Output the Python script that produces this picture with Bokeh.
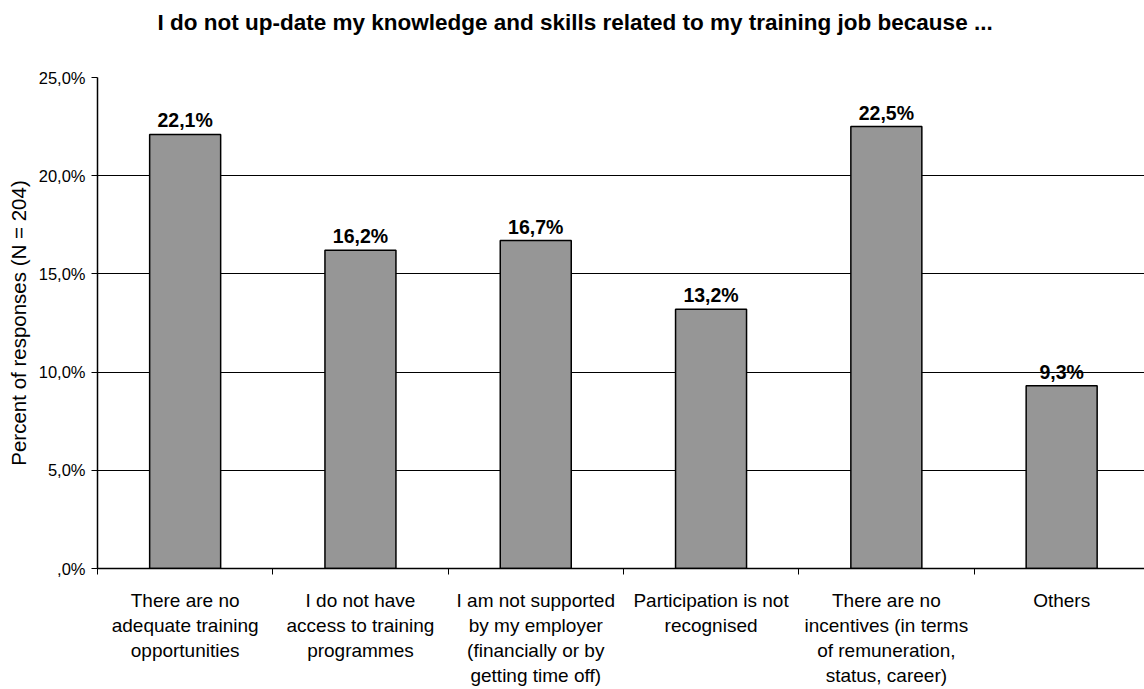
from bokeh.plotting import figure
from bokeh.models import FixedTicker, Range1d, ColumnDataSource, Title
from bokeh.core.properties import value
from bokeh.embed import file_html
from bokeh.resources import INLINE

title_text = "I do not up-date my knowledge and skills related to my training job because ..."
categories = [
    "There are no\nadequate training\nopportunities",
    "I do not have\naccess to training\nprogrammes",
    "I am not supported\nby my employer\n(financially or by\ngetting time off)",
    "Participation is not\nrecognised",
    "There are no\nincentives (in terms\nof remuneration,\nstatus, career)",
    "Others",
]
values = [22.1, 16.2, 16.7, 13.2, 22.5, 9.3]
value_labels = ["22,1%", "16,2%", "16,7%", "13,2%", "22,5%", "9,3%"]
y_ticks = [0, 5, 10, 15, 20, 25]
y_tick_labels = [",0%", "5,0%", "10,0%", "15,0%", "20,0%", "25,0%"]

FONT = "Liberation Sans"

xs = [i + 0.5 for i in range(len(categories))]
src = ColumnDataSource(dict(x=xs, top=values, lab=value_labels))

# plot area continues slightly past the right edge of the page, as in the reference
p = figure(width=1144, height=689, output_backend="svg", toolbar_location=None,
           x_range=Range1d(0, 5.9726), y_range=Range1d(0, 25),
           min_border_left=97, min_border_right=0, min_border_top=77, min_border_bottom=112)
p.outline_line_color = None
p.background_fill_color = "white"
p.border_fill_color = "white"

# blank spacer title next to the plot area, then the real title above it
p.add_layout(Title(text=" ", text_font=FONT, text_font_size="20px", standoff=19), "above")
p.add_layout(Title(text=title_text, text_font=FONT, text_font_size="22.5px", text_font_style="bold",
                   align="left", offset=60, standoff=0, text_color="black"), "above")

p.vbar(x="x", top="top", width=0.405, bottom=0, source=src,
       fill_color="#969696", line_color="black", line_width=1.5)
p.text(x="x", y="top", text="lab", source=src, text_align="center", text_baseline="alphabetic",
       y_offset=-14, text_font=value(FONT), text_font_size="19.5px", text_font_style="bold",
       text_color="black")

# y axis
p.yaxis.ticker = FixedTicker(ticks=y_ticks)
p.yaxis.major_label_overrides = {float(t): l for t, l in zip(y_ticks, y_tick_labels)}
p.yaxis.major_label_text_font = FONT
p.yaxis.major_label_text_font_size = "16.5px"
p.yaxis.major_label_text_color = "black"
p.yaxis.major_tick_out = 6
p.yaxis.major_tick_in = 0
p.yaxis.major_label_standoff = 6
p.yaxis.axis_line_color = "black"
p.yaxis.axis_line_width = 1.5
p.yaxis.major_tick_line_color = "black"
p.yaxis.axis_label = "Percent of responses (N = 204)"
p.yaxis.axis_label_text_font = FONT
p.yaxis.axis_label_text_font_size = "20.5px"
p.yaxis.axis_label_text_font_style = "normal"
p.yaxis.axis_label_text_color = "black"
p.yaxis.axis_label_standoff = 6

# x axis
p.xaxis.ticker = FixedTicker(ticks=xs, minor_ticks=list(range(len(categories) + 1)))
p.xaxis.major_label_overrides = {float(x): c for x, c in zip(xs, categories)}
p.xaxis.major_label_text_font = FONT
p.xaxis.major_label_text_font_size = "19px"
p.xaxis.major_label_text_color = "black"
p.xaxis.major_label_text_line_height = 1.2
p.xaxis.major_tick_out = 0
p.xaxis.major_tick_in = 0
p.xaxis.minor_tick_out = 6
p.xaxis.minor_tick_in = 0
p.xaxis.minor_tick_line_color = "black"
p.xaxis.axis_line_color = "black"
p.xaxis.axis_line_width = 1.5
p.xaxis.major_label_standoff = 15

p.xgrid.grid_line_color = None
p.ygrid.grid_line_color = "black"
p.ygrid.grid_line_width = 1

open("out.html", "w").write(file_html(p, INLINE))
